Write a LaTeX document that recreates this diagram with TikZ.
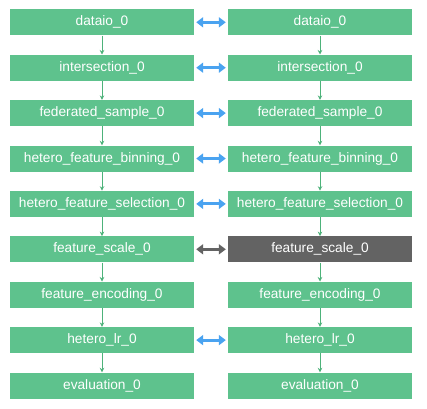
\documentclass[tikz,border=0pt]{standalone}
\usepackage{fontspec}
\setmainfont{Liberation Sans}
\usetikzlibrary{arrows.meta}
\definecolor{boxgreen}{HTML}{5EC28D}
\definecolor{linegreen}{HTML}{4DB27A}
\definecolor{arrowblue}{HTML}{4AA3F0}
\definecolor{boxgray}{HTML}{636363}
\begin{document}
\begin{tikzpicture}[x=1pt,y=-1pt,
  stagebox/.style={fill=boxgreen,draw=none,minimum width=184pt,minimum height=26pt,inner sep=0pt,
    text=white,font=\fontsize{13.7}{16}\selectfont},
  graybox/.style={stagebox,fill=boxgray},
  flow/.style={draw=linegreen,line width=0.9pt,-{Stealth[length=4.5pt,width=4.5pt]}},
  link/.style={draw=arrowblue,line width=3pt,{Triangle[length=7pt,width=10pt]}-{Triangle[length=7pt,width=10pt]},shorten <=2pt,shorten >=2pt},
  graylink/.style={link,draw=boxgray}]
\useasboundingbox (0,0) rectangle (427,408);
\foreach \n/\t [count=\i from 0] in {d/dataio\_0,i/intersection\_0,s/federated\_sample\_0,b/hetero\_feature\_binning\_0,f/hetero\_feature\_selection\_0,c/feature\_scale\_0,e/feature\_encoding\_0,l/hetero\_lr\_0,v/evaluation\_0}{
  \node[stagebox] (L\n) at (102,{22.3+45.4*\i}) {\t};
}
\foreach \n/\t [count=\i from 0] in {d/dataio\_0,i/intersection\_0,s/federated\_sample\_0,b/hetero\_feature\_binning\_0,f/hetero\_feature\_selection\_0,e/feature\_encoding\_0,l/hetero\_lr\_0,v/evaluation\_0}{
  \pgfmathsetmacro{\row}{\i<5?\i:\i+1}
  \node[stagebox] (R\n) at (320,{22.3+45.4*\row}) {\t};
}
\node[graybox] (Rc) at (320,{22.3+45.4*5}) {feature\_scale\_0};
\foreach \a/\b in {d/i,i/s,s/b,b/f,f/c,c/e,e/l,l/v}{
  \draw[flow] (L\a.south) -- (L\b.north);
  \draw[flow] (R\a.south) -- (R\b.north);
}
\foreach \a in {d,i,s,b,f,l}{
  \draw[link] (L\a.east) -- (R\a.west);
}
\draw[graylink] (Lc.east) -- (Rc.west);
\end{tikzpicture}
\end{document}
